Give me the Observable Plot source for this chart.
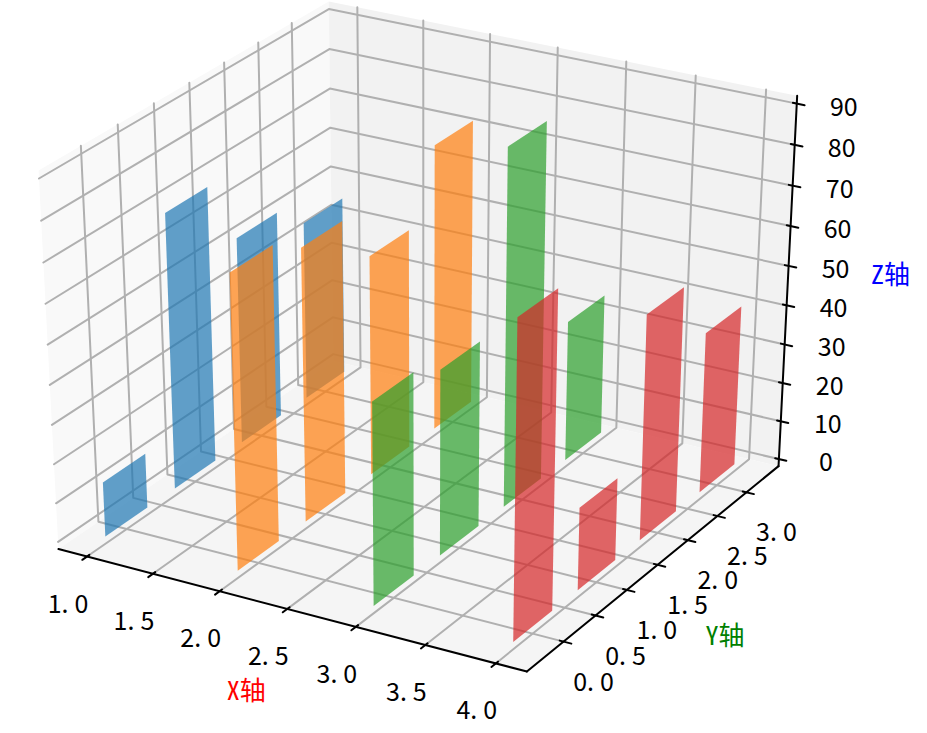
<!DOCTYPE html>
<html>
<head>
<meta charset="utf-8">
<style>html,body{margin:0;padding:0;background:#fff;overflow:hidden}svg{display:block}.axlab{font-feature-settings:"hwid"}</style>
<script src="https://cdn.jsdelivr.net/npm/d3@7"></script>
<script src="https://cdn.jsdelivr.net/npm/@observablehq/plot@0.6"></script>
</head>
<body>
<div id="chart"></div>
<script>
const xCategories = [1, 2, 3, 4];
const yCategories = [0, 1, 2, 3];
const heightsAtX1 = [14, 70, 53, 46];
const heightsAtX2 = [74, 69, 56, 73];
const heightsAtX3 = [51, 47, 90, 36];
const heightsAtX4 = [79, 21, 57, 41];
const seriesHeights = [heightsAtX1, heightsAtX2, heightsAtX3, heightsAtX4];
const seriesColors = ["#1f77b4", "#ff7f0e", "#2ca02c", "#d62728"];
const barWidth = 0.6;

const xTicks = [1.0, 1.5, 2.0, 2.5, 3.0, 3.5, 4.0];
const yTicks = [0.0, 0.5, 1.0, 1.5, 2.0, 2.5, 3.0];
const zTicks = [0, 10, 20, 30, 40, 50, 60, 70, 80, 90];
const xLim = [0.85, 4.15];
const yLim = [-0.48, 3.48];
const zLim = [0, 90];

// mplot3d camera: elev 30, azim -60, dist 10, unit cube
const U = [0.8660254, 0.5, 0];
const V = [-0.25, 0.4330127, 0.8660254];
const W = [0.4330127, -0.75, 0.5];
const dot = (a, b) => a[0]*b[0] + a[1]*b[1] + a[2]*b[2];
const norm = (v, lim) => (v - lim[0]) / (lim[1] - lim[0]) - 0.5;
function project(x, y, z) {
  const p = [norm(x, xLim), norm(y, yLim), norm(z, zLim)];
  const d = 10 - dot(W, p);
  return {px: dot(U, p) / d, py: dot(V, p) / d};
}
const pad = l => (l[1] - l[0]) / 48;
const x0 = xLim[0] - pad(xLim), x1 = xLim[1] + pad(xLim);
const y0 = yLim[0] - pad(yLim), y1 = yLim[1] + pad(yLim);
const z0 = zLim[0] - pad(zLim), z1 = zLim[1] + pad(zLim);
const poly = (id, pts) => pts.map(([x, y, z]) => ({id, ...project(x, y, z)}));

const paneLeft = poly("l", [[x0,y0,z0],[x0,y1,z0],[x0,y1,z1],[x0,y0,z1]]);
const paneBack = poly("b", [[x0,y1,z0],[x1,y1,z0],[x1,y1,z1],[x0,y1,z1]]);
const paneFloor = poly("f", [[x0,y0,z0],[x1,y0,z0],[x1,y1,z0],[x0,y1,z0]]);

const grid = [
  ...xTicks.flatMap(t => poly("x" + t, [[t,y0,z0],[t,y1,z0],[t,y1,z1]])),
  ...yTicks.flatMap(t => poly("y" + t, [[x0,t,z1],[x0,t,z0],[x1,t,z0]])),
  ...zTicks.flatMap(t => poly("z" + t, [[x0,y0,t],[x0,y1,t],[x1,y1,t]]))
];
const axisLines = [
  ...poly("ax", [[x0,y0,z0],[x1,y0,z0]]),
  ...poly("ay", [[x1,y0,z0],[x1,y1,z0]]),
  ...poly("az", [[x1,y1,z0],[x1,y1,z1]])
];
const dxT = (xLim[1]-xLim[0])/12, dyT = (yLim[1]-yLim[0])/12;
const tickLines = [
  ...xTicks.flatMap(t => poly("tx" + t, [[t,y0-0.2*dyT,z0],[t,y0+0.1*dyT,z0]])),
  ...yTicks.flatMap(t => poly("ty" + t, [[x1+0.2*dxT,t,z0],[x1-0.1*dxT,t,z0]])),
  ...zTicks.flatMap(t => poly("tz" + t, [[x1+0.2*dxT,y1,t],[x1-0.1*dxT,y1,t]]))
];
const fmt = d3.format(".1f");
const xLabels = xTicks.map(t => ({label: fmt(t), ...project(t, y0, z0)}));
const yLabels = yTicks.map(t => ({label: fmt(t), ...project(x1, t, z0)}));
const zLabels = zTicks.map(t => ({label: String(t), ...project(x1, y1, t)}));

const bars = xCategories.map((x, i) =>
  yCategories.flatMap((y, j) => poly(`${i}-${j}`, [
    [x, y - barWidth/2, 0],
    [x, y + barWidth/2, 0],
    [x, y + barWidth/2, seriesHeights[i][j]],
    [x, y - barWidth/2, seriesHeights[i][j]]
  ]))
);

const closed = {x: "px", y: "py", z: "id", curve: "linear-closed", stroke: "none"};
const open = {x: "px", y: "py", z: "id"};
const font = "'Noto Sans CJK SC'";
const labelOpts = (dx, dy) => ({x: "px", y: "py", text: "label", dx, dy, fontSize: 25, fontFamily: font, fill: "#000", textAnchor: "middle", lineAnchor: "middle", className: "ticklab"});
const anchor = (text, fill, dx, dy, pt) => Plot.text([{label: text, ...pt}], {x: "px", y: "py", text: "label", fill, dx, dy, fontSize: 26, fontFamily: font, textAnchor: "middle", lineAnchor: "middle", className: "axlab"});

const chart = Plot.plot({
  width: 927, height: 733,
  margin: 0,
  style: {background: "#fff", fontFamily: font},
  x: {domain: [-0.08164, 0.09694], range: [0, 927], axis: null},
  y: {domain: [-0.09859, 0.07815], range: [733, 0], axis: null},
  marks: [
    Plot.line(paneLeft, {...closed, fill: "#f9f9f9"}),
    Plot.line(paneBack, {...closed, fill: "#f2f2f2"}),
    Plot.line(paneFloor, {...closed, fill: "#f5f5f5"}),
    Plot.line(grid, {...open, stroke: "#b0b0b0", strokeWidth: 2}),
    Plot.line(axisLines, {...open, stroke: "#000", strokeWidth: 2}),
    Plot.line(tickLines, {...open, stroke: "#000", strokeWidth: 2}),
    ...bars.map((b, i) => Plot.line(b, {...closed, fill: seriesColors[i], fillOpacity: 0.7})),
    Plot.text(xLabels, labelOpts(-19, 48)),
    Plot.text(yLabels, labelOpts(30, 41)),
    Plot.text(zLabels, labelOpts(47, 4)),
    anchor("X轴", "red", -41, 83, project(2.5, y0, z0)),
    anchor("Y轴", "green", 67.5, 72, project(x1, 1.5, z0)),
    anchor("Z轴", "blue", 103, -10, project(x1, y1, 45))
  ]
});
// half-width spacing after the decimal point, as in the reference's font
d3.select(chart).selectAll(".ticklab text").filter(function () { return this.textContent.includes("."); }).attr("dx", "0 0 6");
document.getElementById("chart").appendChild(chart);
</script>
</body>
</html>
